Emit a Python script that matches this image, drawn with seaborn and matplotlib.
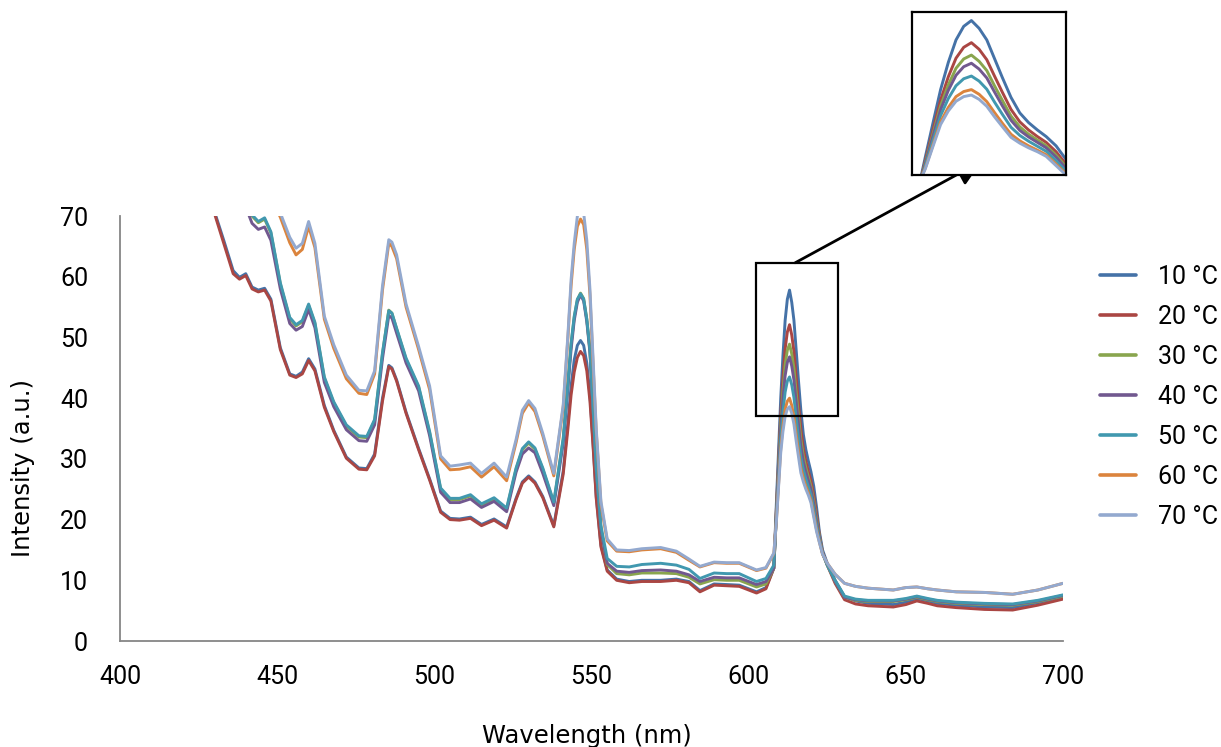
import matplotlib
matplotlib.use("Agg")
import matplotlib.pyplot as plt
from matplotlib.patches import Rectangle
import pandas as pd
import seaborn as sns

# ---------------- data ----------------
wavelength = [
    430, 433, 436, 438, 440, 442, 444, 446, 448, 451,
    454, 456, 458, 460, 462, 465, 468, 472, 476, 478.5,
    481, 483.5, 485.5, 486.5, 488, 491, 495, 498.5, 502, 505,
    508, 511.5, 515, 519, 523, 526, 528, 530, 532, 534.5,
    538, 541, 542.5, 543.5, 544.5, 545.5, 546.5, 547.5, 548.5, 549.5,
    550.5, 551.5, 553, 555, 558, 562, 566, 572, 577, 581,
    584.5, 589, 593, 597, 602.5, 605.5, 608, 608.8, 609.5, 610.2,
    610.9, 611.6, 612.3, 613, 613.7, 614.4, 615.1, 615.8, 616.6, 617.4,
    618.2, 619, 619.8, 620.7, 621.6, 622.5, 623.5, 625, 627.5, 630.5,
    634, 638, 646, 650, 653.5, 657, 660, 666, 675, 684,
    692, 700]

temperatures = ["10 °C", "20 °C", "30 °C", "40 °C", "50 °C", "60 °C", "70 °C"]

int_10 = [
    70.8, 66.0, 61.0, 59.9, 60.5, 58.3, 57.8, 58.1, 56.3, 48.3,
    44.0, 43.6, 44.3, 46.5, 44.8, 38.8, 34.7, 30.3, 28.5, 28.4,
    30.8, 40.0, 45.4, 45.0, 43.0, 37.7, 31.7, 26.7, 21.4, 20.2,
    20.1, 20.4, 19.2, 20.1, 18.8, 23.5, 26.2, 27.2, 26.2, 23.8,
    19.0, 28.0, 36.0, 42.0, 46.3, 48.7, 49.5, 48.7, 45.8, 40.5,
    32.5, 23.8, 15.8, 11.7, 10.2, 9.8, 10.0, 10.0, 10.2, 9.8,
    8.3, 9.4, 9.3, 9.2, 8.1, 8.8, 12.0, 22.5, 31.3, 40.0,
    47.0, 52.8, 56.3, 57.8, 55.8, 52.8, 48.0, 43.2, 38.0, 34.0,
    31.5, 29.6, 27.9, 25.5, 22.0, 18.0, 15.0, 12.8, 10.0, 7.3,
    6.6, 6.2, 6.0, 6.4, 7.0, 6.6, 6.2, 5.9, 5.6, 5.5,
    6.3, 7.3]
int_20 = [
    70.5, 65.5, 60.5, 59.6, 60.2, 58.0, 57.5, 57.8, 56.0, 48.0,
    43.8, 43.4, 44.0, 46.2, 44.5, 38.5, 34.5, 30.1, 28.3, 28.2,
    30.5, 39.5, 45.2, 44.8, 42.8, 37.5, 31.5, 26.5, 21.2, 20.0,
    19.9, 20.2, 19.0, 19.9, 18.6, 23.3, 26.0, 27.0, 26.0, 23.6,
    18.8, 27.5, 35.0, 40.5, 44.3, 46.7, 47.7, 47.0, 44.5, 39.5,
    32.0, 23.5, 15.5, 11.5, 10.0, 9.6, 9.8, 9.8, 10.0, 9.6,
    8.1, 9.2, 9.1, 9.0, 7.9, 8.6, 12.0, 21.6, 29.5, 37.3,
    43.3, 48.1, 50.9, 52.1, 50.4, 47.7, 43.5, 39.4, 34.9, 31.7,
    29.6, 27.9, 26.4, 24.0, 20.8, 17.5, 14.6, 12.5, 9.5, 6.8,
    6.1, 5.8, 5.6, 6.0, 6.6, 6.2, 5.8, 5.5, 5.2, 5.1,
    5.9, 6.9]
int_30 = [
    88.0, 83.0, 78.0, 75.5, 73.0, 70.0, 68.9, 69.5, 67.2, 58.8,
    53.1, 51.9, 52.6, 55.3, 52.3, 43.3, 39.2, 35.4, 33.6, 33.5,
    36.3, 47.3, 54.5, 54.0, 51.4, 46.4, 41.8, 34.3, 25.0, 23.3,
    23.3, 23.9, 22.4, 23.4, 21.7, 28.3, 31.5, 32.6, 31.6, 28.3,
    22.7, 33.2, 42.3, 48.8, 53.3, 56.2, 57.3, 56.4, 53.0, 47.8,
    38.3, 28.3, 18.5, 12.6, 11.1, 10.9, 11.2, 11.2, 11.1, 10.5,
    9.4, 10.1, 10.0, 10.0, 8.9, 9.4, 12.0, 21.1, 28.5, 35.8,
    41.2, 45.5, 47.9, 48.9, 47.3, 44.9, 41.0, 37.3, 33.2, 30.4,
    28.5, 27.0, 25.5, 23.1, 20.1, 17.2, 14.5, 12.5, 9.8, 7.2,
    6.7, 6.5, 6.5, 6.8, 7.2, 6.8, 6.5, 6.2, 6.0, 5.9,
    6.5, 7.4]
int_40 = [
    87.0, 82.0, 77.0, 74.0, 71.5, 68.8, 67.8, 68.2, 66.0, 58.0,
    52.3, 51.2, 51.8, 54.6, 51.6, 42.6, 38.6, 34.8, 33.0, 32.9,
    35.6, 46.5, 53.6, 53.2, 50.7, 45.8, 41.2, 33.8, 24.5, 22.8,
    22.8, 23.4, 22.0, 23.0, 21.3, 27.8, 30.8, 31.8, 31.0, 27.6,
    22.3, 32.6, 41.8, 48.0, 52.8, 55.8, 57.0, 56.0, 52.6, 47.5,
    38.0, 28.0, 18.3, 12.8, 11.5, 11.3, 11.6, 11.7, 11.5, 10.9,
    9.8, 10.5, 10.4, 10.4, 9.3, 9.8, 12.0, 20.8, 27.9, 34.8,
    39.8, 43.7, 45.9, 46.8, 45.3, 43.0, 39.4, 35.9, 32.1, 29.5,
    27.8, 26.4, 25.0, 22.6, 19.7, 17.0, 14.5, 12.6, 9.8, 7.2,
    6.8, 6.6, 6.6, 6.9, 7.3, 6.9, 6.6, 6.3, 6.1, 6.0,
    6.6, 7.5]
int_50 = [
    88.0, 83.0, 78.0, 75.5, 73.0, 70.2, 69.1, 69.7, 67.4, 59.0,
    53.3, 52.1, 52.8, 55.5, 52.5, 43.5, 39.4, 35.6, 33.8, 33.7,
    36.5, 47.5, 54.4, 54.0, 51.5, 46.6, 42.0, 34.5, 25.2, 23.5,
    23.5, 24.1, 22.6, 23.6, 21.9, 28.5, 31.7, 32.8, 31.8, 28.5,
    22.9, 33.4, 42.5, 49.0, 53.5, 56.3, 57.2, 56.3, 53.0, 48.0,
    38.5, 28.5, 19.0, 13.6, 12.3, 12.2, 12.6, 12.8, 12.5, 11.8,
    10.3, 11.2, 11.1, 11.1, 9.8, 10.3, 12.5, 20.3, 26.8, 33.3,
    37.7, 41.0, 42.8, 43.5, 42.2, 40.1, 36.8, 33.7, 30.3, 28.2,
    26.7, 25.4, 24.1, 21.7, 19.0, 16.7, 14.4, 12.5, 10.0, 7.4,
    6.9, 6.7, 6.7, 7.0, 7.4, 7.0, 6.7, 6.4, 6.2, 6.1,
    6.7, 7.6]
int_60 = [
    99.0, 94.0, 89.0, 86.0, 83.0, 80.0, 77.0, 75.0, 73.0, 69.8,
    65.6, 63.6, 64.5, 68.3, 64.8, 53.0, 48.2, 43.2, 40.8, 40.6,
    44.0, 57.8, 65.5, 65.0, 63.0, 55.0, 48.0, 41.4, 30.0, 28.2,
    28.3, 28.7, 27.0, 28.7, 26.4, 32.7, 37.5, 39.2, 37.8, 33.8,
    27.2, 38.5, 50.0, 58.5, 64.5, 68.3, 69.5, 68.6, 64.5, 57.0,
    45.5, 34.5, 22.5, 16.5, 14.8, 14.7, 15.0, 15.2, 14.6, 13.3,
    12.2, 12.9, 12.8, 12.8, 11.6, 12.0, 14.4, 19.7, 25.7, 31.7,
    35.4, 38.2, 39.5, 40.0, 38.8, 36.9, 34.1, 31.4, 28.5, 26.8,
    25.5, 24.4, 23.2, 20.8, 18.3, 16.3, 14.3, 12.8, 11.0, 9.5,
    9.0, 8.7, 8.4, 8.8, 8.9, 8.6, 8.4, 8.1, 8.0, 7.7,
    8.4, 9.5]
int_70 = [
    100.0, 95.0, 90.0, 87.0, 84.0, 81.0, 78.0, 76.0, 74.0, 70.5,
    66.5, 64.7, 65.5, 69.1, 65.5, 53.5, 48.8, 43.8, 41.3, 41.2,
    44.5, 58.5, 66.1, 65.7, 63.6, 55.5, 48.5, 42.0, 30.5, 28.8,
    29.0, 29.3, 27.6, 29.3, 27.0, 33.2, 38.0, 39.6, 38.3, 34.2,
    27.6, 38.9, 50.5, 59.5, 65.5, 70.0, 71.5, 70.5, 66.0, 58.0,
    46.5, 35.0, 23.0, 16.8, 15.0, 14.9, 15.2, 15.4, 14.8, 13.5,
    12.3, 13.0, 12.9, 12.9, 11.7, 12.1, 14.5, 19.5, 25.3, 31.0,
    34.5, 37.0, 38.2, 38.6, 37.5, 35.7, 33.0, 30.5, 27.7, 26.2,
    25.0, 24.0, 22.8, 20.4, 18.0, 16.2, 14.3, 12.8, 11.0, 9.5,
    9.0, 8.7, 8.4, 8.8, 8.9, 8.6, 8.4, 8.1, 8.0, 7.7,
    8.4, 9.5]

series = [int_10, int_20, int_30, int_40, int_50, int_60, int_70]
x_ticks = [400, 450, 500, 550, 600, 650, 700]
y_ticks = [0, 10, 20, 30, 40, 50, 60, 70]

colors = ["#4572A7", "#AA4643", "#89A54E", "#71588F", "#4198AF", "#DB843D", "#93A9CF"]

# ---------------- build long table ----------------
frames = []
for label, vals in zip(temperatures, series):
    frames.append(pd.DataFrame({"Wavelength": wavelength,
                                "Intensity": vals,
                                "Temperature": label}))
df = pd.concat(frames, ignore_index=True)

sns.set_style("white")
plt.rcParams["font.family"] = ["Roboto", "DejaVu Sans"]

FS = 18
TITLE_FS = 17.5
spine_c = "#868686"

fig = plt.figure(figsize=(12.21, 7.47), dpi=100)
ax = fig.add_axes([0.0983, 0.1419, 0.7723, 0.5689])

sns.lineplot(data=df, x="Wavelength", y="Intensity", hue="Temperature",
             hue_order=temperatures, palette=colors, linewidth=2.1,
             estimator=None, sort=False, ax=ax)
for ln in ax.get_lines():
    ln.set_solid_joinstyle("round")

ax.set_xlim(400, 700)
ax.set_ylim(0, 70)
ax.set_xticks(x_ticks)
ax.set_yticks(y_ticks)
for s in ["top", "right"]:
    ax.spines[s].set_visible(False)
for s in ["left", "bottom"]:
    ax.spines[s].set_color(spine_c)
    ax.spines[s].set_linewidth(1.3)
ax.tick_params(axis="both", direction="out", length=7, width=1.3,
               color=spine_c, labelsize=FS, labelcolor="black")
ax.tick_params(axis="y", pad=16)
ax.tick_params(axis="x", pad=10)

ax.set_xlabel("Wavelength (nm)", fontsize=TITLE_FS, family=["DejaVu Sans"],
              color="black")
ax.set_ylabel("Intensity (a.u.)", fontsize=TITLE_FS, family=["DejaVu Sans"],
              color="black")
ax.xaxis.set_label_coords(0.495, -0.195)
ax.yaxis.set_label_coords(-0.090, 0.407)

# legend
handles, labels = ax.get_legend_handles_labels()
for h in handles:
    h.set_linewidth(2.6)
leg = ax.legend(handles, labels, loc="upper left",
                bbox_to_anchor=(1100 / 1221, 1 - 265 / 747),
                bbox_transform=fig.transFigure, frameon=False, fontsize=FS,
                handlelength=1.45, handletextpad=0.85, labelspacing=0.64,
                borderpad=0, borderaxespad=0)
for t in leg.get_texts():
    t.set_color("black")

# highlight box around the 613 nm peak
ax.add_patch(Rectangle((602.4, 37.1), 26.0, 25.2, fill=False,
                       edgecolor="black", linewidth=1.6, zorder=5,
                       clip_on=False))

# arrow to the inset
ax.annotate("", xy=(982 / 1221, 1 - 161 / 747), xycoords="figure fraction",
            xytext=(614.8, 62.3), textcoords="data",
            arrowprops=dict(arrowstyle="-|>,head_length=0.8,head_width=0.4",
                            color="black", lw=2.0, shrinkA=0, shrinkB=0,
                            mutation_scale=20),
            annotation_clip=False)

# inset
axin = fig.add_axes([912 / 1221, 1 - 175 / 747, 154 / 1221, 163 / 747])
sns.lineplot(data=df, x="Wavelength", y="Intensity", hue="Temperature",
             hue_order=temperatures, palette=colors, linewidth=2.1,
             estimator=None, sort=False, legend=False, ax=axin)
for ln in axin.get_lines():
    ln.set_solid_joinstyle("round")
axin.set_xlim(607.6, 621.6)
axin.set_ylim(18, 60)
axin.set_xticks([])
axin.set_yticks([])
axin.set_xlabel("")
axin.set_ylabel("")
for s in axin.spines.values():
    s.set_visible(True)
    s.set_color("black")
    s.set_linewidth(1.6)

fig.savefig("out.png", dpi=100)
